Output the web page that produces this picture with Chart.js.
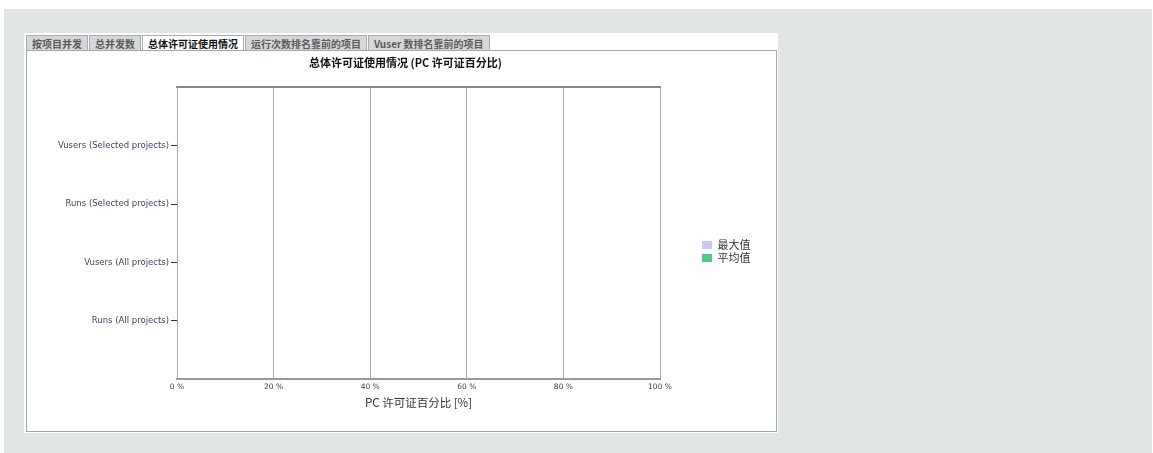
<!DOCTYPE html>
<html>
<head>
<meta charset="utf-8">
<script src="https://cdn.jsdelivr.net/npm/chart.js@4"></script>
<style>
  body { margin: 0; background: #fff; width: 1153px; height: 453px; overflow: hidden; }
  #page { position: absolute; left: 4px; top: 9px; width: 1148px; height: 444px; background: #e2e5e5; }
  #frame { position: absolute; left: 24px; top: 33px; width: 754px; height: 400px; background: #fff; }
  #tabs { position: absolute; left: 26px; top: 35px; height: 15px; display: flex; }
  .tab { height: 14px; line-height: 14px; padding: 0 5px; font: bold 10px "Noto Sans CJK SC", sans-serif;
         color: #5a5a5a; background: #d6d8d8; border: 1px solid #a8abb0; border-bottom: none; margin-right: 1px; }
  .tab.on { background: #fff; color: #111; }
  #box { position: absolute; left: 26px; top: 50px; width: 749px; height: 380px; border: 1px solid #a4a6b4; }
  #wrap { position: absolute; left: 27px; top: 51px; width: 749px; height: 380px; }
</style>
</head>
<body>
<div id="page"></div>
<div id="frame"></div>
<div id="tabs">
  <div class="tab">按项目并发</div>
  <div class="tab">总并发数</div>
  <div class="tab on">总体许可证使用情况</div>
  <div class="tab">运行次数排名靠前的项目</div>
  <div class="tab">Vuser 数排名靠前的项目</div>
</div>
<div id="box"></div>
<div id="wrap"><canvas id="myChart" width="749" height="380"></canvas></div>
<script>
// categories (empty ends keep the spacing of the original axis)
const categories = ['', 'Vusers (Selected projects)', 'Runs (Selected projects)', 'Vusers (All projects)', 'Runs (All projects)', ''];
// series values, nothing is drawn in the reference
const maxValues = [null, 0, 0, 0, 0, null];
const avgValues = [null, 0, 0, 0, 0, null];
const xTicks = [0, 20, 40, 60, 80, 100];

// legend sits away from the plot, a bit below the middle
const legendShift = {
    id: 'legendShift',
    beforeInit(chart) {
        const fit = chart.legend.fit;
        chart.legend.fit = function () {
            fit.bind(chart.legend)();
            this.width = 116;
        };
    },
    afterLayout(chart) {
        chart.legend.left += 40;
        chart.legend.top += 21;
        chart.legend.bottom += 21;
    }
};

var ctx = document.getElementById('myChart').getContext('2d');
var chart = new Chart(ctx, {
    type: 'bar',
    data: {
        labels: categories,
        datasets: [{
            label: '最大值',
            backgroundColor: '#c8c8ff',
            data: maxValues
        }, {
            label: '平均值',
            backgroundColor: '#4fc88e',
            data: avgValues
        }]
    },
    plugins: [legendShift],
    options: {
        indexAxis: 'y',
        responsive: false,
        animation: false,
        layout: { padding: { top: 0, right: 0, bottom: 21, left: 8 } },
        plugins: {
            title: {
                display: true,
                text: '总体许可证使用情况 (PC 许可证百分比)',
                color: '#111',
                font: { family: 'Noto Sans CJK SC', size: 11, weight: 'bold' },
                padding: { top: 5, bottom: 10 }
            },
            legend: {
                position: 'right',
                labels: {
                    boxWidth: 10, boxHeight: 8, padding: 2,
                    color: '#333',
                    font: { family: 'Noto Sans CJK SC', size: 11 }
                }
            },
            tooltip: { enabled: false }
        },
        scales: {
            x: {
                min: 0, max: 100,
                afterBuildTicks: (s) => { s.ticks = xTicks.map(v => ({ value: v })); },
                grid: { color: '#aaaaaa', drawTicks: false },
                border: { color: '#999999', width: 2 },
                ticks: {
                    padding: 3,
                    maxRotation: 0,
                    autoSkip: false,
                    color: '#3a3a4a',
                    font: { family: 'DejaVu Sans', size: 7.5 },
                    callback: (v) => v + ' %'
                },
                title: {
                    display: true,
                    text: 'PC 许可证百分比 [%]',
                    color: '#333',
                    font: { family: 'Noto Sans CJK SC', size: 11.5 },
                    padding: { top: 2, bottom: 0 }
                }
            },
            x2: {
                position: 'top',
                min: 0, max: 100,
                grid: { display: false },
                ticks: { display: false },
                border: { color: '#888888', width: 2 }
            },
            y: {
                offset: false,
                afterFit: (s) => { s.width = 142; },
                grid: {
                    offset: false,
                    drawOnChartArea: false,
                    tickLength: 6,
                    color: (c) => (c.tick && c.tick.label === '') ? 'rgba(0,0,0,0)' : '#333'
                },
                border: { color: '#aaaaaa', width: 1 },
                ticks: {
                    padding: 2,
                    autoSkip: false,
                    color: '#4a3a5a',
                    font: { family: 'DejaVu Sans', size: 8.5 }
                }
            }
        }
    }
});
</script>
</body>
</html>
